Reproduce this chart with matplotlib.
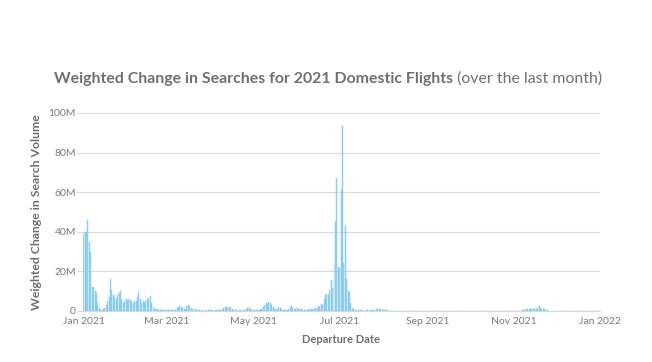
import numpy as np
import pandas as pd
import matplotlib
matplotlib.use("Agg")
import matplotlib.pyplot as plt
import matplotlib.dates as mdates
from matplotlib.ticker import FuncFormatter

# daily weighted change in searches, millions
jan = [39, 40, 40, 46, 35, 30, 12, 12, 10, 9, 4, 1.5, 0.3, 0.3, 0.8, 1.5, 3, 5, 7, 16,
       10.6, 8, 7, 6, 8, 9, 10, 5.5, 4, 5, 6]
feb = [5, 6, 5.5, 5, 4, 5, 5, 7, 9.4, 6, 4, 5, 4, 5, 6, 6.5, 7.5, 4, 2, 1.5,
       1, 0.8, 0.5, 0.5, 0.3, 0.5, 0.5, 0.3]
mar = [0.3, 0.3, 0.5, 0.3, 0.3, 0.5, 0.5, 1.5, 2, 2.5, 2, 1.5, 1, 1, 2.5, 3, 2.5, 1.5, 1, 1,
       0.8, 0.5, 0.3, 0.3, 0.2, 0.3, 0.2, 0.3, 0.2, 0.3, 0.3]
apr = [0.3, 0.3, 0.2, 0.3, 0.3, 0.3, 0.5, 0.5, 1, 1.5, 2, 2, 1.5, 2, 1.5, 1, 0.5, 0.3, 0.3, 0.2,
       0.3, 0.3, 0.2, 0.3, 0.3, 1, 1.5, 1.5, 1, 0.5]
may = [0.3, 0.3, 0.3, 0.5, 0.5, 0.8, 1, 2, 3, 4, 3.5, 4.5, 4, 3, 2, 1.5, 1, 0.5, 2, 1.5,
       1, 0.5, 0.5, 0.5, 0.5, 1, 2, 2.5, 1.5, 1, 1]
jun = [1.5, 1, 1, 0.8, 0.5, 0.3, 0.3, 0.5, 0.5, 0.8, 1, 1, 1, 1.5, 1.7, 2, 2.5, 3.4, 3, 6,
       8, 8.5, 8, 10.5, 15.6, 11.5, 24, 45, 67, 22]
jul = [21.7, 61, 93.6, 24, 43, 16, 10, 9.7, 4, 1.5, 0.8, 0.5, 0.3, 0.3, 0.2, 0.3, 0.3, 0.2, 0.2, 0.3,
       0.3, 0.2, 0.3, 0.3, 0.5, 0.8, 1, 0.8, 1, 0.8, 0.5]
aug = [0.5, 0.5, 0.3, 0.3, 0.2, 0.2, 0.2] + [0] * 24
sep = [0] * 30
oct_ = [0] * 31
nov = [0, 0, 0, 0, 0, 0, 0.3, 0.5, 0.5, 0.8, 1, 0.8, 1, 1.2, 1, 1.5, 1.2, 1.5, 2.5, 1.5,
       1, 1.2, 0.8, 0.5, 0.3, 0.2, 0.2, 0, 0, 0]
dec = [0] * 31

values_m = jan + feb + mar + apr + may + jun + jul + aug + sep + oct_ + nov + dec
dates = pd.date_range("2021-01-01", "2021-12-31", freq="D")
tick_dates = pd.to_datetime(["2021-01-01", "2021-03-01", "2021-05-01", "2021-07-01",
                             "2021-09-01", "2021-11-01", "2022-01-01"])
y_ticks = [0, 20e6, 40e6, 60e6, 80e6, 100e6]

plt.rcParams["font.family"] = ["Lato", "DejaVu Sans"]
text_grey = "#7a7a7a"
grid_grey = "#d9d9d9"

fig = plt.figure(figsize=(6.52, 3.62), dpi=100)
ax = fig.add_axes([0.1273, 0.1409, 0.7927, 0.547])

vals = np.array(values_m) * 1e6
ax.bar(dates, vals, width=0.7, color="#9dd6f4", edgecolor="#79c5ec", linewidth=0.3, zorder=3)

ax.set_xlim(pd.Timestamp("2021-01-01") - pd.Timedelta(hours=12), pd.Timestamp("2022-01-01"))
ax.set_ylim(0, 100e6)
ax.set_xticks(tick_dates)
ax.xaxis.set_major_formatter(mdates.DateFormatter("%b %Y"))
ax.set_yticks(y_ticks)
ax.yaxis.set_major_formatter(FuncFormatter(lambda v, p: "0" if v == 0 else f"{v/1e6:.0f}M"))

ax.grid(axis="y", color=grid_grey, linewidth=0.8, zorder=0)
for s in ["top", "right", "left"]:
    ax.spines[s].set_visible(False)
ax.spines["bottom"].set_color(grid_grey)
ax.tick_params(axis="y", length=4, color=grid_grey, labelcolor=text_grey, labelsize=7.5, pad=1)
ax.tick_params(axis="x", length=0, labelcolor=text_grey, labelsize=7.5, pad=4)

ax.set_xlabel("Departure Date", color="#6e6e6e", fontsize=8, fontweight="bold", labelpad=6)
ax.set_ylabel("Weighted Change in Search Volume", color="#6e6e6e", fontsize=8.8,
              fontweight="bold", labelpad=5)

# two-weight title, centred as one line
bold_part = "Weighted Change in Searches for 2021 Domestic Flights"
light_part = " (over the last month)"
fig.canvas.draw()
r = fig.canvas.get_renderer()
t1 = fig.text(0, 0.783, bold_part, fontsize=11.4, fontweight="bold", color="#707070", va="center")
t2 = fig.text(0, 0.783, light_part, fontsize=11.4, color="#707070", va="center")
w1 = t1.get_window_extent(r).width
w2 = t2.get_window_extent(r).width
x0 = (fig.bbox.width - w1 - w2) / 2 + 2
t1.set_x(x0 / fig.bbox.width)
t2.set_x((x0 + w1) / fig.bbox.width)

fig.savefig("out.png", dpi=100)
